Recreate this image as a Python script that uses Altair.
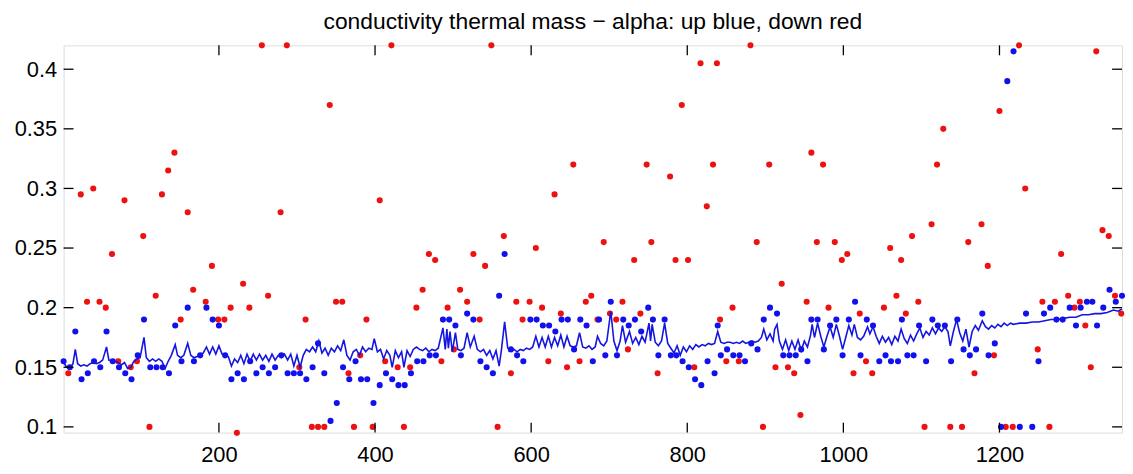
import altair as alt
import pandas as pd

TITLE = "conductivity thermal mass \u2212 alpha: up blue, down red"

x_ticks = [200, 400, 600, 800, 1000, 1200]
y_ticks = [0.1, 0.15, 0.2, 0.25, 0.3, 0.35, 0.4]

red_pts = [
    (7, .145), (23, .295), (31, .205), (39, .30), (47, .205), (55, .20), (63, .245), (71, .155),
    (79, .29), (87, .15), (95, .155), (103, .26), (111, .10), (119, .21), (127, .295), (135, .315),
    (143, .33), (151, .19), (160, .28), (167, .215), (183, .205), (191, .235), (199, .19), (207, .19),
    (215, .20), (223, .095), (231, .22), (239, .20), (255, .42), (263, .21), (279, .28), (287, .42),
    (303, .15), (311, .19), (319, .10), (327, .10), (335, .10), (342, .37), (350, .205), (358, .205),
    (366, .145), (373, .10), (381, .16), (389, .19), (397, .10), (406, .29), (413, .155), (421, .42),
    (429, .15), (437, .10), (445, .15), (453, .20), (461, .215), (469, .245), (477, .24), (485, .155),
    (493, .20), (501, .165), (509, .215), (518, .205), (526, .245), (534, .19), (541, .235), (549, .42),
    (557, .10), (565, .26), (574, .145), (581, .205), (589, .19), (598, .205), (606, .25), (614, .20),
    (622, .155), (630, .295), (638, .195), (646, .15), (654, .32), (662, .155), (670, .205), (677, .21),
    (685, .19), (693, .255), (701, .195), (709, .19), (717, .205), (724, .165), (732, .24), (740, .195),
    (748, .32), (754, .255), (762, .145), (778, .31), (785, .24), (793, .37), (801, .24), (809, .15),
    (817, .405), (825, .285), (833, .32), (838, .405), (842, .19), (850, .155), (858, .20), (866, .155),
    (881, .42), (889, .255), (897, .10), (905, .32), (913, .15), (921, .22), (929, .15), (937, .145),
    (945, .11), (953, .205), (959, .33), (966, .255), (974, .32), (981, .20), (989, .255), (998, .24),
    (1005, .245), (1013, .145), (1021, .195), (1029, .155), (1037, .145), (1052, .20), (1060, .25),
    (1068, .21), (1074, .24), (1080, .195), (1088, .26), (1096, .205), (1104, .10), (1113, .27),
    (1120, .32), (1128, .35), (1137, .10), (1152, .10), (1160, .255), (1168, .145), (1177, .27),
    (1185, .235), (1193, .16), (1200, .365), (1208, .10), (1217, .10), (1225, .42), (1233, .30),
    (1249, .165), (1255, .205), (1264, .10), (1271, .205), (1279, .245), (1288, .21), (1296, .20),
    (1303, .205), (1310, .185), (1317, .15), (1324, .415), (1332, .265), (1340, .26), (1348, .21),
    (1356, .195),
]

blue_pts = [
    (1, .155), (9, .15), (16, .18), (24, .14), (32, .145), (40, .155), (48, .15), (56, .18),
    (64, .155), (72, .15), (80, .145), (88, .14), (96, .16), (104, .19), (112, .15), (120, .15),
    (128, .15), (136, .145), (144, .185), (152, .155), (160, .20), (168, .155), (176, .16), (184, .20),
    (192, .19), (200, .185), (208, .16), (216, .14), (224, .145), (232, .14), (240, .155), (248, .145),
    (256, .15), (264, .145), (272, .15), (280, .16), (288, .145), (296, .145), (304, .145), (312, .14),
    (320, .15), (327, .17), (335, .145), (343, .105), (351, .12), (359, .15), (367, .14), (375, .155),
    (382, .14), (390, .14), (398, .12), (406, .135), (414, .145), (422, .14), (430, .135), (438, .135),
    (446, .145), (454, .155), (462, .155), (470, .16), (478, .16), (487, .19), (495, .19), (503, .185),
    (510, .16), (518, .195), (526, .19), (535, .155), (543, .15), (551, .145), (559, .21), (566, .245),
    (574, .165), (582, .16), (590, .155), (599, .19), (607, .19), (615, .185), (623, .185), (631, .18),
    (639, .19), (647, .19), (655, .165), (663, .19), (671, .185), (679, .155), (687, .19), (695, .16),
    (702, .205), (710, .16), (718, .19), (725, .185), (733, .19), (741, .18), (750, .20), (756, .19),
    (763, .16), (771, .19), (779, .16), (786, .16), (794, .155), (802, .15), (810, .14), (818, .135),
    (826, .155), (835, .145), (839, .185), (843, .16), (851, .165), (859, .16), (867, .16), (874, .155),
    (882, .17), (890, .165), (898, .19), (906, .20), (915, .195), (923, .16), (931, .16), (939, .16),
    (946, .165), (954, .155), (959, .19), (967, .19), (975, .165), (983, .185), (991, .19), (999, .16),
    (1007, .19), (1015, .205), (1022, .16), (1030, .19), (1038, .185), (1046, .155), (1054, .16),
    (1061, .155), (1070, .155), (1075, .19), (1082, .16), (1090, .16), (1097, .185), (1106, .155),
    (1114, .19), (1121, .185), (1130, .185), (1138, .155), (1146, .19), (1154, .165), (1162, .16),
    (1170, .165), (1178, .195), (1186, .16), (1194, .17), (1202, .10), (1210, .39), (1218, .415),
    (1226, .10), (1234, .195), (1242, .10), (1250, .155), (1257, .195), (1265, .20), (1273, .19),
    (1281, .19), (1290, .20), (1298, .185), (1304, .20), (1312, .205), (1319, .205), (1325, .185),
    (1333, .20), (1341, .215), (1349, .205), (1357, .21),
]

line_pts = [
    (1, .154), (5, .150), (9, .149), (13, .153), (16, .165), (19, .153), (23, .151), (27, .152),
    (31, .151), (35, .153), (39, .154), (43, .153), (47, .154), (51, .156), (56, .167), (59, .156),
    (63, .155), (67, .155), (71, .154), (75, .152), (79, .154), (83, .149), (87, .150), (91, .155),
    (95, .157), (99, .158), (104, .175), (107, .158), (111, .155), (115, .157), (119, .155), (123, .157),
    (127, .155), (131, .149), (135, .155), (139, .160), (144, .169), (147, .160), (151, .158), (155, .160),
    (160, .170), (164, .160), (168, .158), (172, .159), (176, .160), (180, .162), (184, .167), (188, .161),
    (192, .167), (196, .161), (200, .168), (204, .161), (208, .160), (212, .159), (216, .151), (220, .157),
    (224, .154), (228, .160), (232, .153), (236, .161), (240, .155), (244, .161), (248, .156), (252, .161),
    (256, .156), (260, .160), (264, .155), (268, .161), (272, .156), (276, .160), (280, .158), (284, .161),
    (288, .156), (292, .161), (296, .151), (300, .160), (304, .150), (308, .160), (312, .165), (316, .163),
    (320, .167), (324, .163), (328, .172), (332, .162), (336, .166), (340, .160), (344, .166), (348, .163),
    (352, .168), (356, .164), (360, .173), (364, .160), (368, .156), (372, .163), (376, .165), (380, .160),
    (384, .167), (388, .163), (392, .166), (396, .165), (399, .174), (403, .163), (407, .165), (411, .157),
    (415, .164), (419, .160), (422, .150), (426, .164), (430, .158), (434, .163), (437, .150), (441, .164),
    (445, .159), (449, .165), (453, .167), (457, .165), (461, .164), (465, .166), (469, .163), (473, .165),
    (477, .164), (481, .166), (487, .183), (490, .165), (492, .182), (494, .166), (496, .180), (499, .163),
    (503, .179), (506, .165), (510, .164), (514, .166), (518, .179), (522, .167), (527, .176), (531, .165),
    (535, .163), (539, .165), (543, .160), (547, .164), (551, .157), (555, .164), (559, .151), (562, .165),
    (566, .188), (570, .166), (574, .164), (578, .165), (582, .163), (586, .165), (590, .164), (594, .166),
    (598, .165), (602, .167), (606, .176), (610, .167), (614, .175), (618, .167), (622, .176), (626, .167),
    (630, .175), (634, .168), (638, .177), (642, .167), (646, .176), (650, .168), (654, .167), (658, .168),
    (662, .179), (666, .167), (670, .166), (674, .168), (678, .165), (682, .167), (685, .176), (689, .170),
    (693, .168), (697, .172), (702, .197), (706, .172), (710, .164), (714, .172), (717, .185), (721, .171),
    (726, .180), (730, .170), (734, .175), (738, .169), (742, .176), (746, .171), (751, .187), (753, .172),
    (755, .186), (759, .171), (763, .168), (767, .172), (771, .187), (775, .170), (779, .166), (783, .162),
    (787, .168), (791, .160), (795, .167), (799, .163), (803, .168), (807, .165), (811, .169), (815, .167),
    (819, .169), (823, .168), (827, .170), (831, .169), (835, .170), (839, .180), (843, .171), (847, .170),
    (851, .171), (855, .171), (859, .170), (863, .171), (867, .170), (871, .172), (875, .170), (879, .171),
    (883, .172), (887, .171), (891, .172), (895, .175), (898, .182), (902, .173), (906, .178), (910, .172),
    (912, .182), (915, .186), (918, .172), (922, .165), (926, .173), (930, .164), (934, .172), (938, .165),
    (942, .173), (946, .164), (950, .172), (954, .167), (958, .177), (960, .186), (963, .175), (967, .187),
    (971, .176), (975, .167), (979, .176), (983, .184), (987, .175), (991, .186), (995, .176), (999, .165),
    (1003, .175), (1007, .185), (1011, .177), (1014, .186), (1018, .175), (1022, .173), (1026, .176),
    (1031, .184), (1034, .178), (1038, .184), (1042, .176), (1046, .170), (1050, .176), (1054, .171),
    (1058, .175), (1062, .169), (1066, .176), (1070, .172), (1074, .182), (1078, .174), (1082, .170),
    (1086, .177), (1090, .172), (1094, .178), (1098, .183), (1102, .175), (1106, .180), (1110, .177),
    (1114, .183), (1118, .178), (1122, .183), (1126, .180), (1130, .184), (1134, .180), (1137, .168),
    (1141, .180), (1145, .190), (1149, .179), (1153, .172), (1157, .182), (1161, .167), (1165, .180),
    (1169, .185), (1173, .181), (1178, .189), (1182, .184), (1186, .182), (1190, .185), (1194, .183),
    (1198, .186), (1202, .184), (1206, .187), (1210, .185), (1214, .187), (1218, .186), (1226, .187),
    (1234, .187), (1242, .188), (1250, .188), (1258, .189), (1266, .190), (1274, .190), (1282, .191),
    (1290, .192), (1298, .192), (1306, .194), (1314, .194), (1322, .195), (1330, .195), (1338, .196),
    (1346, .198), (1352, .197), (1357, .199),
]

W, H = 1066, 390
FONT = "Liberation Sans"

red_df = pd.DataFrame(red_pts, columns=["x", "y"])
blue_df = pd.DataFrame(blue_pts, columns=["x", "y"])
line_df = pd.DataFrame(line_pts, columns=["x", "y"])
xt_df = pd.DataFrame({"x": x_ticks})
yt_df = pd.DataFrame({"y": y_ticks})

xs = alt.Scale(domain=[1, 1357], nice=False, zero=False)
ys = alt.Scale(domain=[0.0952, 0.42], nice=False, zero=False)

xaxis = alt.Axis(values=x_ticks, ticks=False, tickSize=0, grid=False, domain=False, title=None,
                 labelFontSize=22, labelFont=FONT, labelColor="black", labelPadding=12,
                 labelFlush=False, format="d")
yaxis = alt.Axis(values=y_ticks, ticks=False, tickSize=0, grid=False, domain=False, title=None,
                 labelFontSize=22, labelFont=FONT, labelColor="black", labelPadding=7,
                 format=".2~f")

X = alt.X("x:Q", scale=xs, axis=xaxis)
Y = alt.Y("y:Q", scale=ys, axis=yaxis)

red = alt.Chart(red_df).mark_circle(size=38, opacity=1, color="#ee1111").encode(x=X, y=Y)
blue = alt.Chart(blue_df).mark_circle(size=38, opacity=1, color="#1111ee").encode(x=X, y=Y)
line = alt.Chart(line_df).mark_line(color="#1515e0", strokeWidth=1.6).encode(x=X, y=Y)

tick_style = dict(color="black", strokeWidth=1.3)
bt = alt.Chart(xt_df).mark_rule(**tick_style).encode(x=X, y=alt.value(H), y2=alt.value(H - 10))
tt = alt.Chart(xt_df).mark_rule(**tick_style).encode(x=X, y=alt.value(0), y2=alt.value(10))
lt = alt.Chart(yt_df).mark_rule(**tick_style).encode(y=Y, x=alt.value(0), x2=alt.value(10))
rt = alt.Chart(yt_df).mark_rule(**tick_style).encode(y=Y, x=alt.value(W), x2=alt.value(W - 10))

chart = alt.layer(red, blue, line, bt, tt, lt, rt).properties(
    width=W, height=H,
    autosize="none",
    padding={"left": 56, "top": 36, "right": 3, "bottom": 32},
    title=alt.TitleParams(TITLE, fontSize=23, font=FONT, fontWeight="normal", color="black",
                          anchor="middle", offset=8),
).configure_view(stroke="black", strokeWidth=1.5).configure(background="white")

chart.save("out.html", embed_options={"renderer": "svg", "actions": False})
